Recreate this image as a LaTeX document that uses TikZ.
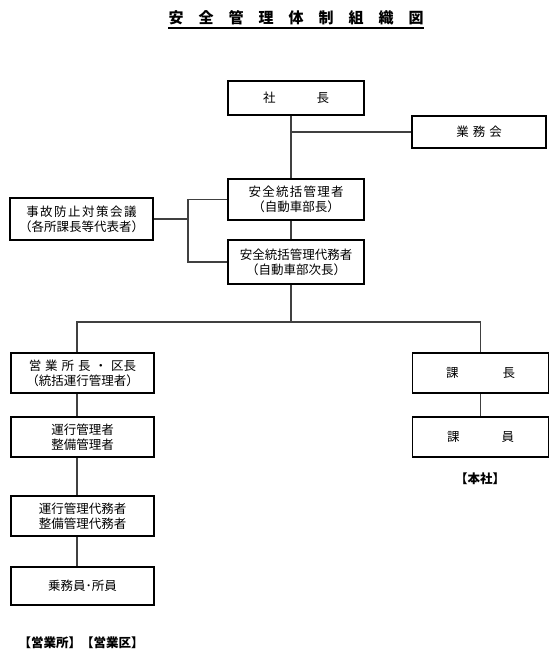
\documentclass[tikz,border=0pt]{standalone}
\usepackage{fontspec}
\setmainfont{Noto Sans CJK JP}
\newcommand{\wide}[2]{{\addfontfeature{LetterSpace=#1}#2}}
\begin{document}
\begin{tikzpicture}[x=1pt,y=-1pt,
  box/.style={draw,line width=1.6pt,align=center,inner sep=2pt,
    font=\fontsize{12.5}{15}\selectfont},
  link/.style={line width=1.2pt,draw=black!75},
  tag/.style={font=\bfseries\fontsize{12.5}{15}\selectfont}]
\useasboundingbox (0,0) rectangle (557,660);
\node[inner sep=0pt,font=\bfseries\fontsize{15}{18}\selectfont] (title) at (296,18) {安　全　管　理　体　制　組　織　図};
\draw[line width=1.3pt] ([yshift=-2.5pt]title.south west) -- ([yshift=-2.5pt]title.south east);
\coordinate (spine) at (291,0);
\coordinate (brk) at (188,0);
\coordinate (lcol) at (77,0);
\coordinate (branch) at (291,322);
\node[box,minimum width=136pt,minimum height=34pt] (shacho) at (296,98) {社\hspace{41pt}長};
\node[box,minimum width=134pt,minimum height=32pt] (gyomukai) at (479,132) {業\hspace{4pt}務\hspace{4pt}会};
\node[box,minimum width=136pt,minimum height=41pt] (sokatsu) at (296,199.5) {\wide{10}{安全統括管理者}\\（自動車部長）};
\node[box,minimum width=136pt,minimum height=44pt] (dairi) at (296,262) {安全統括管理代務者\\（自動車部次長）};
\node[box,minimum width=143pt,minimum height=42pt] (jiko) at (81.5,219) {\wide{12}{事故防止対策会議}\\（各所課長等代表者）};
\node[box,minimum width=143.5pt,minimum height=40pt] (eigyo) at (82.5,373) {営\hspace{4pt}業\hspace{4pt}所\hspace{4pt}長\hspace{4pt}・\hspace{4pt}区長\\（統括運行管理者）};
\node[box,minimum width=143.5pt,minimum height=40pt] (unko) at (82.5,437) {運行管理者\\整備管理者};
\node[box,minimum width=143.5pt,minimum height=40.5pt] (unkodairi) at (82.5,516) {運行管理代務者\\整備管理代務者};
\node[box,minimum width=143.5pt,minimum height=37.5pt] (jomu) at (82.5,586) {乗務員･所員};
\node[box,minimum width=136pt,minimum height=40pt] (kacho) at (480.5,373) {課\hspace{44pt}長};
\node[box,minimum width=136pt,minimum height=40pt] (kain) at (480.5,437) {課\hspace{42pt}員};
\node[tag] (honsha) at (480,479) {【本社】};
\node[tag] (eigyosho) at (81,643) {【営業所】【営業区】};
\draw[link] (shacho.south -| spine) -- (sokatsu.north -| spine);
\draw[link] (gyomukai.west -| spine) -- (gyomukai.west);
\draw[link] (sokatsu.south -| spine) -- (dairi.north -| spine);
\draw[link] (jiko.east) -- (jiko.east -| brk);
\draw[link] (sokatsu.west) -- (sokatsu.west -| brk) -- (dairi.west -| brk) -- (dairi.west);
\draw[link] (dairi.south -| spine) -- (branch);
\draw[link] (eigyo.north -| lcol) |- (branch) -| (kacho.north);
\draw[link] (eigyo.south -| lcol) -- (unko.north -| lcol);
\draw[link] (unko.south -| lcol) -- (unkodairi.north -| lcol);
\draw[link] (unkodairi.south -| lcol) -- (jomu.north -| lcol);
\draw[link] (kacho.south) -- (kain.north);
\end{tikzpicture}
\end{document}
